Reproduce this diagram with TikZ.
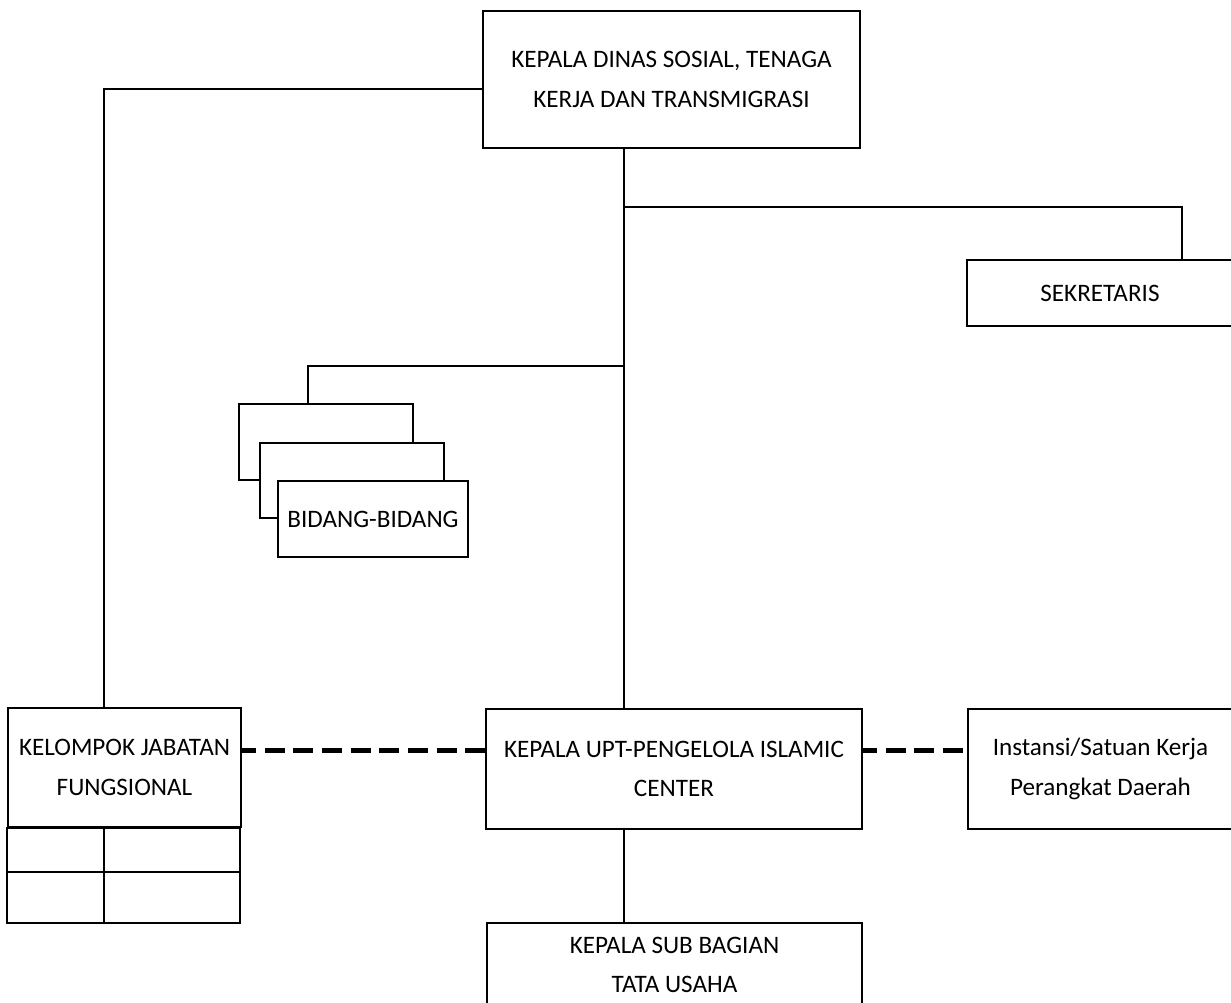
\documentclass[tikz,border=0pt]{standalone}
\usepackage{fontspec}
\setmainfont{Carlito}
\usepackage{tikz}

\begin{document}
\begin{tikzpicture}[x=0.02cm,y=-0.02cm,
  box/.style={draw,line width=1pt,fill=white,align=center,inner sep=0pt,font=\fontsize{14.3}{22.5}\selectfont},
  link/.style={line width=1pt},
  dashlink/.style={line width=2.85pt,dash pattern=on 0.4cm off 0.174cm,dash phase=0.12cm}]
\useasboundingbox (0,0) rectangle (1231,1002);
\node[box,minimum width=7.54cm,minimum height=2.74cm] (kepala) at (671.5,79.5) {KEPALA DINAS SOSIAL, TENAGA\\KERJA DAN TRANSMIGRASI};
\node[box,minimum width=5.32cm,minimum height=1.32cm] (sekretaris) at (1100,293) {SEKRETARIS};
\node[box,minimum width=3.48cm,minimum height=1.52cm] (bidangA) at (326,442) {};
\node[box,minimum width=3.68cm,minimum height=1.5cm] (bidangB) at (352,480.5) {};
\node[box,minimum width=3.8cm,minimum height=1.52cm] (bidang) at (373,519) {BIDANG-BIDANG};
\node[box,minimum width=4.66cm,minimum height=2.38cm] (kelompok) at (124.5,767.5) {KELOMPOK JABATAN\\FUNGSIONAL};
\node[box,minimum width=7.52cm,minimum height=2.4cm] (upt) at (674,769) {KEPALA UPT-PENGELOLA ISLAMIC\\CENTER};
\node[box,minimum width=5.3cm,minimum height=2.4cm] (instansi) at (1100.5,769) {Instansi/Satuan Kerja\\Perangkat Daerah};
\node[box,minimum width=7.5cm,minimum height=1.68cm] (subbag) at (674.5,965) {KEPALA SUB BAGIAN\\TATA USAHA};
%garis komando
\coordinate (trunk) at (624,148);
\draw[link] (trunk) -- (upt.north -| trunk);
\draw[link] (trunk |- 0,207) -| (sekretaris.north -| 1182,0);
\draw[link] (trunk |- 0,366) -| (bidangA.north -| 308,0);
\draw[link] (kepala.west |- 0,89) -| (kelompok.north -| 104,0);
\draw[link] (upt.south -| trunk) -- (subbag.north -| trunk);
%garis koordinasi
\coordinate (dash) at (0,750);
\draw[dashlink] (kelompok.east |- dash) -- (upt.west |- dash);
\draw[dashlink] (upt.east |- dash) -- (instansi.west |- dash);
\draw[link] (kelompok.south west) rectangle ++(233,95);
\draw[link] (kelompok.south west) ++(0,44) -- ++(233,0);
\draw[link] (kelompok.south west) ++(97,0) -- ++(0,95);
\end{tikzpicture}
\end{document}
